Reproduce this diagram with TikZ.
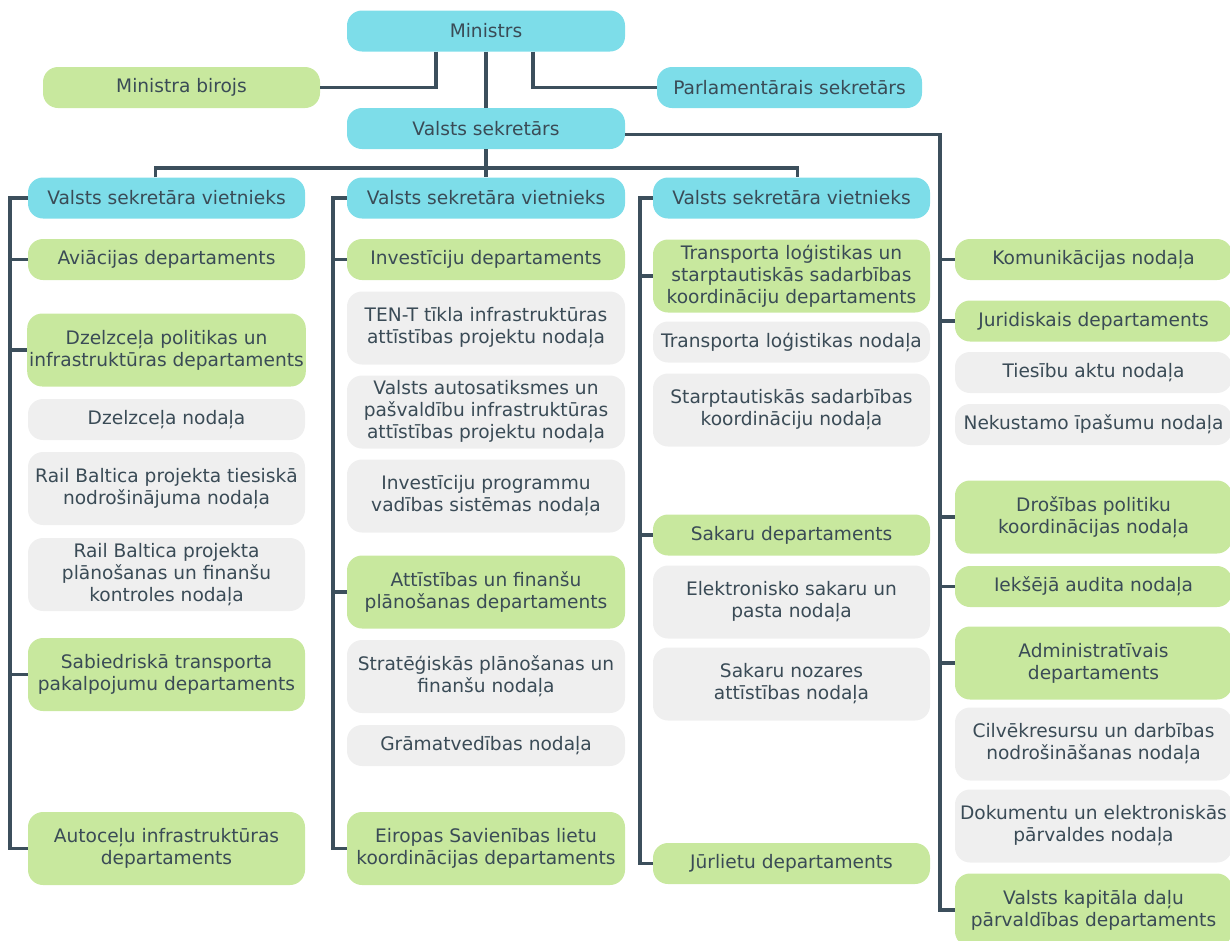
\documentclass[tikz,border=0pt]{standalone}
\usepackage{fontspec}
\setmainfont{DejaVu Sans}
\definecolor{cy}{HTML}{7DDDE9}
\definecolor{gr}{HTML}{C8E89E}
\definecolor{gy}{HTML}{EFEFEF}
\definecolor{tx}{HTML}{3A4B56}
\definecolor{ln}{HTML}{3C4F5C}
\tikzset{
  box/.style={rectangle, rounded corners=15pt, minimum width=277pt, minimum height=41pt, align=center, text=tx, inner sep=2pt, font=\fontsize{18.6}{22}\selectfont},
  cybox/.style={box, fill=cy},
  grbox/.style={box, fill=gr},
  gybox/.style={box, fill=gy},
  tall/.style={minimum height=73pt},
  conn/.style={draw=ln, line width=3.6pt}
}
\begin{document}
\begin{tikzpicture}[x=1pt,y=-1pt]
\useasboundingbox (0,0) rectangle (1230,940);
% top
\node[cybox, minimum width=278pt] (min) at (486,31) {Ministrs};
\node[grbox] (bir) at (181.5,87.5) {Ministra birojs};
\node[cybox, minimum width=265pt] (par) at (789.5,87.5) {Parlamentārais sekretārs};
\node[cybox, minimum width=278pt] (vs) at (486,128.5) {Valsts sekretārs};
% deputies
\node[cybox] (d1) at (166.5,198) {Valsts sekretāra vietnieks};
\node[cybox, minimum width=278pt] (d2) at (486,198) {Valsts sekretāra vietnieks};
\node[cybox] (d3) at (791.5,198) {Valsts sekretāra vietnieks};
% column 1
\node[grbox] (c1a) at (166.5,259.5) {Aviācijas departaments};
\node[grbox, tall] (c1b) at (166.5,350) {Dzelzceļa politikas un\\infrastruktūras departaments};
\node[gybox] (c1c) at (166.5,419.5) {Dzelzceļa nodaļa};
\node[gybox, tall] (c1d) at (166.5,488.5) {Rail Baltica projekta tiesiskā\\nodrošinājuma nodaļa};
\node[gybox, tall] (c1e) at (166.5,574.5) {Rail Baltica projekta\\plānošanas un finanšu\\kontroles nodaļa};
\node[grbox, tall] (c1f) at (166.5,674.5) {Sabiedriskā transporta\\pakalpojumu departaments};
\node[grbox, tall] (c1g) at (166.5,848.5) {Autoceļu infrastruktūras\\departaments};
% column 2
\node[grbox, minimum width=278pt] (c2a) at (486,259.5) {Investīciju departaments};
\node[gybox, tall, minimum width=278pt] (c2b) at (486,328) {TEN-T tīkla infrastruktūras\\attīstības projektu nodaļa};
\node[gybox, tall, minimum width=278pt] (c2c) at (486,412) {Valsts autosatiksmes un\\pašvaldību infrastruktūras\\attīstības projektu nodaļa};
\node[gybox, tall, minimum width=278pt] (c2d) at (486,496) {Investīciju programmu\\vadības sistēmas nodaļa};
\node[grbox, tall, minimum width=278pt] (c2e) at (486,592) {Attīstības un finanšu\\plānošanas departaments};
\node[gybox, tall, minimum width=278pt] (c2f) at (486,676.5) {Stratēģiskās plānošanas un\\finanšu nodaļa};
\node[gybox, minimum width=278pt] (c2g) at (486,745.5) {Grāmatvedības nodaļa};
\node[grbox, tall, minimum width=278pt] (c2h) at (486,848.5) {Eiropas Savienības lietu\\koordinācijas departaments};
% column 3
\node[grbox, tall] (c3a) at (791.5,276) {Transporta loģistikas un\\starptautiskās sadarbības\\koordināciju departaments};
\node[gybox] (c3b) at (791.5,342) {Transporta loģistikas nodaļa};
\node[gybox, tall] (c3c) at (791.5,410) {Starptautiskās sadarbības\\koordināciju nodaļa};
\node[grbox] (c3d) at (791.5,535) {Sakaru departaments};
\node[gybox, tall] (c3e) at (791.5,602) {Elektronisko sakaru un\\pasta nodaļa};
\node[gybox, tall] (c3f) at (791.5,684) {Sakaru nozares\\attīstības nodaļa};
\node[grbox] (c3g) at (791.5,863.5) {Jūrlietu departaments};
% column 4
\node[grbox] (c4a) at (1093.5,259.5) {Komunikācijas nodaļa};
\node[grbox] (c4b) at (1093.5,321) {Juridiskais departaments};
\node[gybox] (c4c) at (1093.5,372.5) {Tiesību aktu nodaļa};
\node[gybox] (c4d) at (1093.5,424.5) {Nekustamo īpašumu nodaļa};
\node[grbox, tall] (c4e) at (1093.5,517) {Drošības politiku\\koordinācijas nodaļa};
\node[grbox] (c4f) at (1093.5,586.5) {Iekšējā audita nodaļa};
\node[grbox, tall] (c4g) at (1093.5,663) {Administratīvais\\departaments};
\node[gybox, tall] (c4h) at (1093.5,744) {Cilvēkresursu un darbības\\nodrošināšanas nodaļa};
\node[gybox, tall] (c4i) at (1093.5,826) {Dokumentu un elektroniskās\\pārvaldes nodaļa};
\node[grbox, tall] (c4j) at (1093.5,910) {Valsts kapitāla daļu\\pārvaldības departaments};
% coordinates
\coordinate (t1) at (10,0);
\coordinate (t2) at (333,0);
\coordinate (t3) at (640,0);
\coordinate (t4) at (940,0);
\coordinate (bus) at (486,168);
% connectors
\draw[conn] ([xshift=-50pt]min.south) |- (bir.east);
\draw[conn] ([xshift=47pt]min.south) |- (par.west);
\draw[conn] (min.south) -- (vs.north);
\draw[conn] (vs.south) -- (d2.north);
\draw[conn] ([xshift=-11pt]d1.north) |- (bus) -| ([xshift=6pt]d3.north);
\draw[conn] ([yshift=-6pt]vs.east) -| (t4 |- c4j.west) -- (c4j.west);
% column 1
\draw[conn] (d1.west) -| (t1 |- c1g.west) -- (c1g.west);
\foreach \n in {c1a,c1b,c1f} \draw[conn] (t1 |- \n.west) -- (\n.west);
% column 2
\draw[conn] (d2.west) -| (t2 |- c2h.west) -- (c2h.west);
\foreach \n in {c2a,c2e} \draw[conn] (t2 |- \n.west) -- (\n.west);
% column 3
\draw[conn] (d3.west) -| (t3 |- c3g.west) -- (c3g.west);
\foreach \n in {c3a,c3d} \draw[conn] (t3 |- \n.west) -- (\n.west);
% column 4
\foreach \n in {c4a,c4b,c4e,c4f,c4g} \draw[conn] (t4 |- \n.west) -- (\n.west);
\end{tikzpicture}
\end{document}
